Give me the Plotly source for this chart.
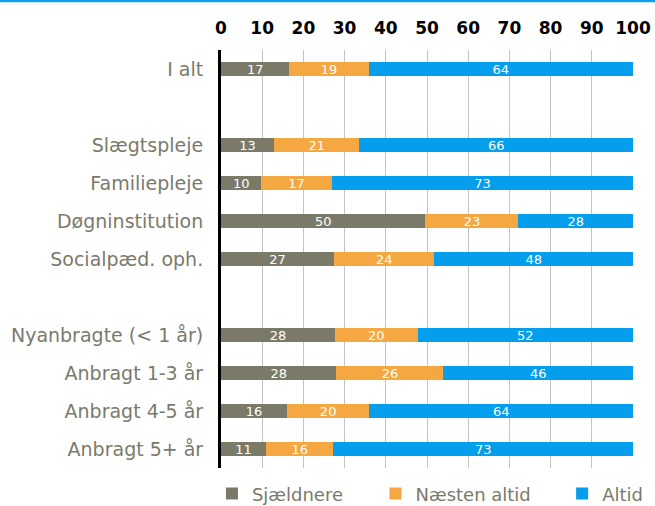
import plotly.graph_objects as go

categories = ["I alt", "Slægtspleje", "Familiepleje", "Døgninstitution", "Socialpæd. oph.",
              "Nyanbragte (< 1 år)", "Anbragt 1-3 år", "Anbragt 4-5 år", "Anbragt 5+ år"]
category_order = ["I alt", " ", "Slægtspleje", "Familiepleje", "Døgninstitution", "Socialpæd. oph.",
                  "  ", "Nyanbragte (< 1 år)", "Anbragt 1-3 år", "Anbragt 4-5 år", "Anbragt 5+ år"]
sjaeldnere = [16.6, 12.9, 9.8, 49.6, 27.4, 27.7, 28.0, 16.0, 10.9]
naesten_altid = [19.2, 20.7, 17.1, 22.6, 24.4, 20.0, 26.0, 20.0, 16.4]
altid = [64.2, 66.4, 73.1, 27.8, 48.2, 52.3, 46.0, 64.0, 72.7]
series_names = ["Sjældnere", "Næsten altid", "Altid"]
colors = ["#7b7a68", "#f5a742", "#049eec"]
x_ticks = [0, 10, 20, 30, 40, 50, 60, 70, 80, 90, 100]

FONT = "DejaVu Sans"
LABEL_COLOR = "#7a7a6a"
legend_ids = ["legend", "legend2", "legend3"]
legend_x = [-0.022, 0.375, 0.828]

fig = go.Figure()
for name, vals, col, lid in zip(series_names, [sjaeldnere, naesten_altid, altid], colors, legend_ids):
    fig.add_trace(go.Bar(
        y=categories, x=vals, name=name, orientation="h", legend=lid,
        marker=dict(color=col, line=dict(width=0)),
        texttemplate="%{x:.0f}", textposition="inside", insidetextanchor="middle",
        constraintext="none", textangle=0,
        textfont=dict(color="white", size=13, family=FONT),
        hoverinfo="skip",
    ))

legend_common = dict(orientation="h", y=-0.062, yanchor="middle", xanchor="left",
                     font=dict(size=18, color=LABEL_COLOR, family=FONT),
                     bgcolor="rgba(0,0,0,0)", borderwidth=0)
layout_legends = {}
for lid, lx in zip(legend_ids, legend_x):
    layout_legends[lid] = dict(x=lx, **legend_common)

fig.update_layout(
    barmode="stack", bargap=0.62, showlegend=True,
    width=655, height=506,
    margin=dict(l=221, r=22, t=50, b=38, autoexpand=False),
    paper_bgcolor="white", plot_bgcolor="white",
    font=dict(family=FONT, color=LABEL_COLOR),
    xaxis=dict(side="top", range=[0, 100], tickvals=x_ticks, showgrid=True,
               gridcolor="#c4c4c4", gridwidth=1, zeroline=False,
               tickfont=dict(size=17, color="black", family=FONT, weight="bold"),
               ticks="", ticklabelstandoff=12, fixedrange=True),
    yaxis=dict(categoryorder="array", categoryarray=category_order, autorange="reversed",
               showline=True, linecolor="black", linewidth=3, showgrid=False,
               tickfont=dict(size=19, color=LABEL_COLOR, family=FONT), ticks="",
               ticklabelstandoff=11, fixedrange=True),
    shapes=[dict(type="line", xref="paper", yref="paper", x0=-0.6, x1=1.1,
                 y0=(468 - 1) / 418, y1=(468 - 1) / 418,
                 line=dict(color="#129ce6", width=2.5))],
    **layout_legends,
)

fig.write_html("out.html", config={"displayModeBar": False},
               post_script="document.body.style.margin='0';document.body.style.padding='0';")
